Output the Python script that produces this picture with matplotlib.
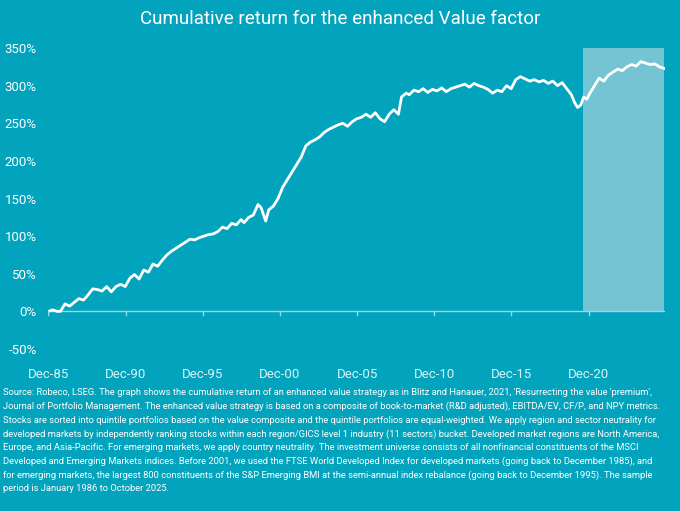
import matplotlib.pyplot as plt

plt.rcParams['font.family'] = ['Roboto', 'DejaVu Sans']

# fractional years and cumulative return (%)
years = [1985.92, 1986.2, 1986.5, 1986.7, 1987.0, 1987.3, 1987.6, 1987.9, 1988.2, 1988.5,
         1988.8, 1989.1, 1989.4, 1989.7, 1990.0, 1990.3, 1990.6, 1990.9, 1991.2, 1991.5,
         1991.8, 1992.1, 1992.4, 1992.7, 1993.0, 1993.3, 1993.6, 1993.9, 1994.2, 1994.5,
         1994.8, 1995.1, 1995.4, 1995.7, 1996.0, 1996.3, 1996.6, 1996.9, 1997.2, 1997.5,
         1997.8, 1998.1, 1998.4, 1998.6, 1998.9, 1999.2, 1999.5, 1999.7, 2000.0, 2000.2,
         2000.5, 2000.8, 2001.1, 2001.4, 2001.7, 2002.0, 2002.3, 2002.6, 2002.9, 2003.2,
         2003.5, 2003.8, 2004.1, 2004.4, 2004.7, 2005.0, 2005.3, 2005.6, 2005.9, 2006.2,
         2006.5, 2006.8, 2007.1, 2007.4, 2007.7, 2008.0, 2008.3, 2008.6, 2008.8, 2009.1,
         2009.3, 2009.6, 2009.9, 2010.2, 2010.5, 2010.8, 2011.1, 2011.4, 2011.7, 2012.0,
         2012.3, 2012.6, 2012.9, 2013.2, 2013.5, 2013.8, 2014.1, 2014.4, 2014.7, 2015.0,
         2015.3, 2015.6, 2015.9, 2016.2, 2016.5, 2016.8, 2017.1, 2017.4, 2017.7, 2018.0,
         2018.3, 2018.6, 2018.9, 2019.2, 2019.5, 2019.8, 2020.0, 2020.2, 2020.4, 2020.6,
         2020.8, 2021.0, 2021.3, 2021.6, 2021.9, 2022.2, 2022.5, 2022.8, 2023.1, 2023.4,
         2023.7, 2024.0, 2024.3, 2024.6, 2024.9, 2025.2, 2025.5, 2025.8]
cum_return = [0, 2, 0, 0, 10, 7, 12, 17, 15, 22,
              30, 29, 27, 33, 26, 33, 36, 33, 44, 49,
              43, 55, 52, 63, 60, 68, 75, 80, 84, 88,
              92, 96, 95, 98, 100, 102, 103, 106, 112, 110,
              117, 115, 122, 118, 125, 128, 142, 138, 120, 135,
              140, 150, 165, 175, 185, 195, 205, 220, 225, 228,
              232, 238, 242, 245, 248, 250, 246, 252, 256, 258,
              262, 258, 264, 256, 252, 262, 268, 262, 285, 290,
              288, 294, 292, 296, 291, 295, 293, 297, 292, 296,
              298, 300, 302, 298, 303, 300, 298, 295, 290, 294,
              292, 300, 296, 308, 312, 309, 306, 308, 305, 307,
              303, 306, 300, 304, 296, 288, 278, 271, 274, 285,
              282, 290, 300, 310, 306, 314, 318, 322, 320, 325,
              328, 326, 332, 330, 328, 329, 325, 323]

shade_start = 2020.55
shade_end = 2025.83

tick_pos = [1985.92, 1990.92, 1995.92, 2000.92, 2005.92, 2010.92, 2015.92, 2020.92]
tick_labels = ['Dec-85', 'Dec-90', 'Dec-95', 'Dec-00', 'Dec-05', 'Dec-10', 'Dec-15', 'Dec-20']

bg = '#02a3bd'
fig = plt.figure(figsize=(6.8, 5.11), dpi=100, facecolor=bg)
ax = fig.add_axes([0.0706, 0.317, 0.907, 0.589], facecolor=bg)

ax.fill_between([shade_start, shade_end], 0, 350, color='#9dd0dc', alpha=0.75, lw=0)
ax.axhline(0, color='#8fdbe8', lw=1)
ax.plot(years, cum_return, color='white', lw=2)

ax.set_xlim(1985.9, 2025.85)
ax.set_ylim(-50, 350)
ax.set_yticks(range(-50, 351, 50))
ax.set_yticklabels([f'{v}%' for v in range(-50, 351, 50)])
ax.set_xticks(tick_pos)
ax.set_xticklabels(tick_labels)
for s in ax.spines.values():
    s.set_visible(False)
ax.tick_params(axis='y', length=0, colors='white', labelsize=9.5, pad=8)
ax.tick_params(axis='x', length=0, colors='#d8f4f8', labelsize=9.5, pad=14)
for x in tick_pos:
    ax.plot([x, x], [0, -5], color='#8fdbe8', lw=1)

fig.text(0.5, 0.962, 'Cumulative return for the enhanced Value factor', color='white',
         fontsize=13.5, ha='center', va='center')

note = ("Source: Robeco, LSEG. The graph shows the cumulative return of an enhanced value strategy as in Blitz and Hanauer, 2021, 'Resurrecting the value 'premium',\n"
        "Journal of Portfolio Management. The enhanced value strategy is based on a composite of book-to-market (R&D adjusted), EBITDA/EV, CF/P, and NPY metrics.\n"
        "Stocks are sorted into quintile portfolios based on the value composite and the quintile portfolios are equal-weighted. We apply region and sector neutrality for\n"
        "developed markets by independently ranking stocks within each region/GICS level 1 industry (11 sectors) bucket. Developed market regions are North America,\n"
        "Europe, and Asia-Pacific. For emerging markets, we apply country neutrality. The investment universe consists of all nonfinancial constituents of the MSCI\n"
        "Developed and Emerging Markets indices. Before 2001, we used the FTSE World Developed Index for developed markets (going back to December 1985), and\n"
        "for emerging markets, the largest 800 constituents of the S&P Emerging BMI at the semi-annual index rebalance (going back to December 1995). The sample\n"
        "period is January 1986 to October 2025.")
fig.text(0.004, 0.24, note, color='white', fontsize=6.75, ha='left', va='top', linespacing=1.6)

fig.savefig('out.png', dpi=100, facecolor=bg)
